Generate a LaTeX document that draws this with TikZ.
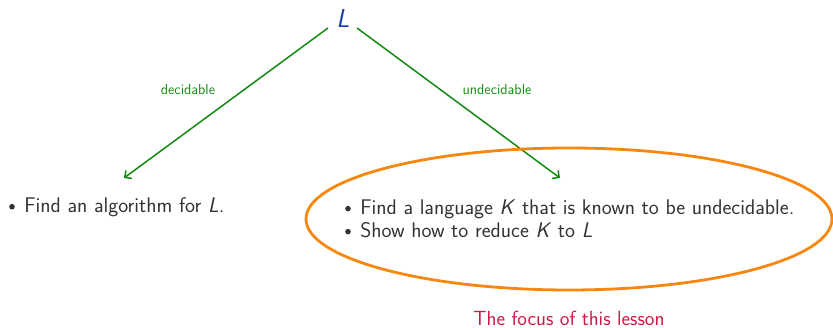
\documentclass[tikz,border=0pt]{standalone}
\usepackage{tikz}
\usetikzlibrary{arrows.meta}
\renewcommand{\familydefault}{\sfdefault}
\definecolor{txt}{HTML}{333333}
\definecolor{lblue}{HTML}{1A3FB0}
\definecolor{edgegreen}{HTML}{138A13}
\definecolor{focusorange}{HTML}{F7870F}
\definecolor{focusred}{HTML}{CC1A47}
\newcommand{\itembullet}{\raisebox{0.3ex}{\tikz\fill[txt] (0,0) circle (2.8pt);}\hspace{0.45em}}
\begin{document}
\begin{tikzpicture}[x=1pt,y=-1pt,
  every node/.style={inner sep=0pt, text=txt},
  bodytext/.style={font=\fontsize{21.2}{23}\selectfont, align=left, anchor=west},
  edge/.style={draw=edgegreen, line width=1.5pt, -{Straight Barb[length=5pt,width=10pt]}},
  edgelabel/.style={font=\fontsize{14.5}{16}\selectfont, text=edgegreen}]
\useasboundingbox (0,0) rectangle (833,328);
\node[font=\fontsize{26}{28}\selectfont, text=lblue] (L) at (343,18) {\textit{L}};
\coordinate (dec) at (124,178);
\coordinate (und) at (560,178);
\draw[edge] (328,28) -- (dec);
\draw[edge] (357,28) -- (und);
\node[edgelabel] (declab) at (188,90) {decidable};
\node[edgelabel] (undlab) at (497,90) {undecidable};
\node[bodytext] (left) at (9,207) {\itembullet Find an algorithm for \textit{L}.};
\node[bodytext] (right) at (345,218.5) {\itembullet Find a language \textit{K} that is known to be undecidable.\\
\itembullet Show how to reduce \textit{K} to \textit{L}};
\draw[focusorange, line width=2.8pt] (569,219) ellipse [x radius=263, y radius=71];
\node[font=\fontsize{20.5}{22}\selectfont, text=focusred] (focus) at (569,318.5) {The focus of this lesson};
\end{tikzpicture}
\end{document}
